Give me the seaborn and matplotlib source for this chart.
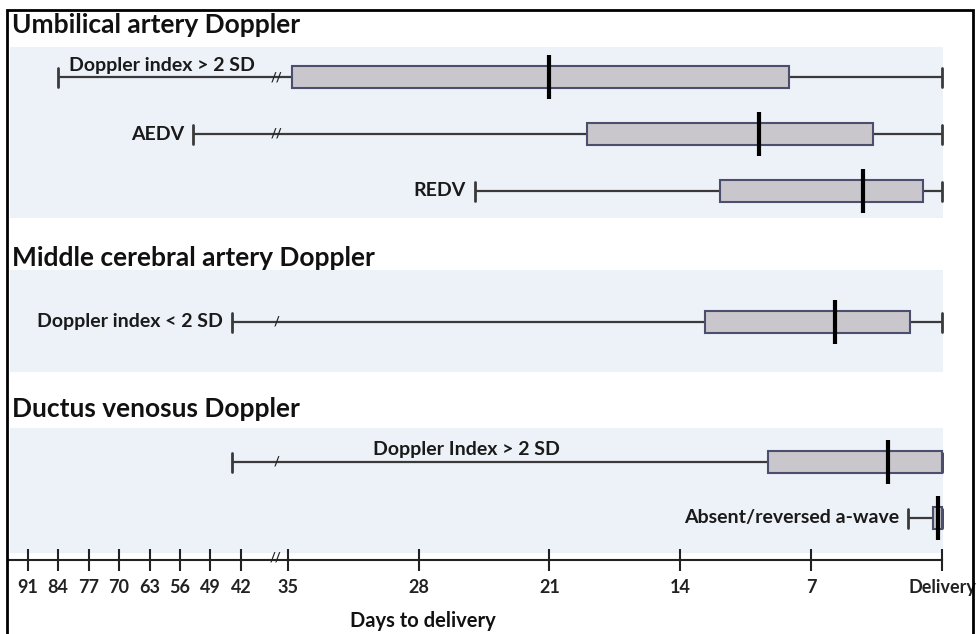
import numpy as np
import pandas as pd
import matplotlib
matplotlib.use("Agg")
import matplotlib.pyplot as plt
from matplotlib.patches import Rectangle
import seaborn as sns

# ---- data: days to delivery, one entry per row (top to bottom) ----
row_labels = ["Doppler index > 2 SD", "AEDV", "REDV", "Doppler index < 2 SD",
              "Doppler Index > 2 SD", "Absent/reversed a-wave"]
first_day = [84, 53, 25, 44, 44, 1.8]          # earliest onset (left whisker)
box_early = [34.8, 19.0, 11.9, 12.7, 9.3, 0.5]  # box edge furthest from delivery
median_day = [21.0, 9.8, 4.2, 5.7, 2.9, 0.2]
box_late = [8.2, 3.7, 1.0, 1.7, 0.0, 0.0]       # box edge closest to delivery
last_day = [0, 0, 0, 0, 0, 0]                   # latest onset (right whisker)

section_titles = ["Umbilical artery Doppler", "Middle cerebral artery Doppler",
                  "Ductus venosus Doppler"]
tick_days = [91, 84, 77, 70, 63, 56, 49, 42, 35, 28, 21, 14, 7, 0]
tick_labels = ["91", "84", "77", "70", "63", "56", "49", "42", "35", "28",
               "21", "14", "7", "Delivery"]

# ---- layout (figure pixels, y measured from the top) ----
W, H = 977, 634
row_y = [77, 134, 191, 322, 462, 518]
title_y = [25, 258, 409]
band_spans = [(47, 218), (270, 372), (428, 553)]
break_glyph = ["//", "//", "", "/", "/", ""]
axis_y = 560

# ---- broken day axis: 0-35 days full scale, >35 days compressed ----
U42 = 37.51
MID = (U42 - 35) / 7
LEFT = 0.2328


def fwd(d):
    d = np.asarray(d, dtype=float)
    return np.where(d <= 35, d,
                    np.where(d <= 42, 35 + (d - 35) * MID, U42 + (d - 42) * LEFT))


def inv(u):
    u = np.asarray(u, dtype=float)
    return np.where(u <= 35, u,
                    np.where(u <= U42, 35 + (u - 35) / MID, 42 + (u - U42) / LEFT))


sns.set_style("white")
plt.rcParams["font.family"] = ["Lato", "DejaVu Sans"]
plt.rcParams["font.weight"] = "bold"

fig = plt.figure(figsize=(W / 100, H / 100), dpi=100)
ax = fig.add_axes([0, 0, 1, 1])
ax.set_xscale("function", functions=(fwd, inv))
ax.set_xlim(97.37, -1.873)
ax.set_ylim(H, 0)
ax.set_facecolor("white")

# long-form table: five summary points per row
records = []
for lab, y, a, b, m, c, e in zip(row_labels, row_y, first_day, box_early,
                                 median_day, box_late, last_day):
    for v in (a, b, m, c, e):
        records.append({"row": lab, "ypos": y, "days": v})
df = pd.DataFrame(records)

band_color = "#edf1f8"
for top, bottom in band_spans:
    ax.axhspan(top, bottom, xmin=10 / W, xmax=943 / W, color=band_color,
               zorder=0, lw=0)

sns.boxplot(data=df, x="days", y="ypos", orient="y", native_scale=True,
            whis=(0, 100), width=0.4, color="#c9c7cb", saturation=1,
            linecolor="#3a3a3a", linewidth=1.6, showfliers=False,
            capwidths=19, ax=ax,
            boxprops={"edgecolor": "#4b4e6c", "linewidth": 1.5, "zorder": 3},
            whiskerprops={"color": "#3a3a3a", "linewidth": 1.6},
            capprops={"color": "#3a3a3a", "linewidth": 2.0},
            medianprops={"visible": False})

# thick median markers extending past the box
ax.vlines(median_day, [y - 22 for y in row_y], [y + 22 for y in row_y],
          colors="black", linewidth=3, zorder=5)

# whisker break marks
for y, g in zip(row_y, break_glyph):
    if g:
        ax.text(36.7, y, g, ha="center", va="center", fontsize=9,
                fontweight="bold", color="#222222", zorder=6)

# row labels
label_kw = dict(textcoords="offset pixels", va="center", fontsize=14,
                fontweight="bold", color="#1a1a1a", zorder=6)
ax.annotate(row_labels[0], xy=(first_day[0], row_y[0]), xytext=(11, 12),
            ha="left", **label_kw)
for i in (1, 2, 3, 5):
    ax.annotate(row_labels[i], xy=(first_day[i], row_y[i]), xytext=(-9, 0),
                ha="right", **label_kw)
ax.text(466 / W, row_y[4] - 12, row_labels[4], transform=ax.get_yaxis_transform(),
        ha="center", va="center", fontsize=14, fontweight="bold",
        color="#1a1a1a", zorder=6)

# section headings
for t, y in zip(section_titles, title_y):
    ax.text(12 / W, y, t, transform=ax.get_yaxis_transform(), ha="left",
            va="center", fontsize=19, fontweight="bold", color="#111111")

# day axis
for s in ("top", "left", "right"):
    ax.spines[s].set_visible(False)
ax.spines["bottom"].set_position(("data", axis_y))
ax.spines["bottom"].set_bounds(95.5, 0)
ax.spines["bottom"].set_linewidth(1.5)
ax.spines["bottom"].set_color("#222222")
ax.set_xticks(tick_days, tick_labels)
ax.tick_params(axis="x", bottom=True, direction="inout", length=16, width=1.5,
               pad=6, labelsize=13, colors="#222222")
for lbl in ax.get_xticklabels():
    lbl.set_fontweight("bold")
ax.set_yticks([])
ax.set_xlabel("")
ax.set_ylabel("")
ax.text(36.9, axis_y - 2, "//", ha="center", va="center", fontsize=9,
        fontweight="bold", color="#222222")
ax.text(423 / W, 621, "Days to delivery", transform=ax.get_yaxis_transform(),
        ha="center", va="center", fontsize=14.5, fontweight="bold", color="#111111")

# outer frame
fig.add_artist(Rectangle((7 / W, -0.01), (973 - 7) / W, 1.01 - 10 / H,
                         transform=fig.transFigure, fill=False,
                         edgecolor="black", linewidth=2))

fig.savefig("out.png", dpi=100)
